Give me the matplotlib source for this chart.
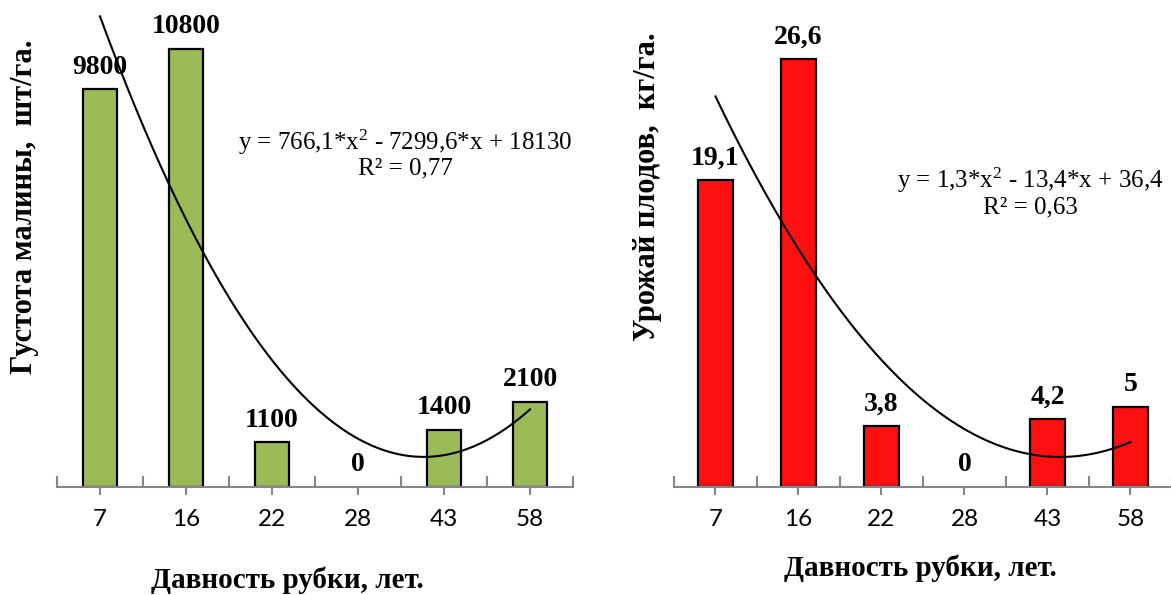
import numpy as np
import matplotlib
matplotlib.use("Agg")
import matplotlib.pyplot as plt
from matplotlib.ticker import FixedLocator

# data
years = ["7", "16", "22", "28", "43", "58"]
density = [9800, 10800, 1100, 0, 1400, 2100]
density_labels = ["9800", "10800", "1100", "0", "1400", "2100"]
harvest = [19.1, 26.6, 3.8, 0, 4.2, 5]
harvest_labels = ["19,1", "26,6", "3,8", "0", "4,2", "5"]
density_fit = [766.1, -7299.6, 18130]
harvest_fit = [1.3, -13.4, 36.4]

SERIF = "Liberation Serif"
SANS = "Lato"

plt.rcParams["mathtext.fontset"] = "custom"
plt.rcParams["mathtext.rm"] = SERIF
plt.rcParams["mathtext.it"] = SERIF + ":italic"


def draw_panel(ax, values, labels, fit, color, ymax, bar_w):
    x = np.arange(len(values))
    bars = ax.bar(x, values, width=bar_w, color=color, edgecolor="black",
                  linewidth=1.6, zorder=2)
    for b, v in zip(bars, values):
        if v == 0:
            b.set_linewidth(0)
    for xi, v, lab in zip(x, values, labels):
        ax.annotate(lab, (xi, v), xytext=(0, 7), textcoords="offset points",
                    ha="center", va="bottom", fontsize=20, fontweight="bold",
                    family=SERIF)
    # trend line, fitted on category index 1..6
    xs = np.linspace(1, len(values), 200)
    ax.plot(xs - 1, np.polyval(fit, xs), color="black", linewidth=1.5, zorder=3)

    ax.set_xlim(-0.5, len(values) - 0.5)
    ax.set_ylim(0, ymax)
    for s in ["top", "right", "left"]:
        ax.spines[s].set_visible(False)
    ax.spines["bottom"].set_color("#868686")
    ax.spines["bottom"].set_linewidth(1.5)
    ax.set_yticks([])
    ax.set_xticks(x)
    ax.set_xticklabels(years, fontsize=17.5, family=SANS)
    ax.xaxis.set_minor_locator(FixedLocator(np.arange(-0.5, len(values), 1.0)))
    ax.tick_params(axis="x", which="major", direction="out", length=6, width=1.5,
                   color="#868686", pad=10)
    ax.tick_params(axis="x", which="minor", direction="in", length=8, width=1.5,
                   color="#868686")


fig = plt.figure(figsize=(11.71, 5.95), dpi=100)

ax1 = fig.add_axes([57 / 1171, 108 / 595, 516 / 1171, 487 / 595])
draw_panel(ax1, density, density_labels, density_fit, "#9BBB59", 12000, 0.4)

ax2 = fig.add_axes([674 / 1171, 108 / 595, 498 / 1171, 487 / 595])
draw_panel(ax2, harvest, harvest_labels, harvest_fit, "#FF1010", 30.3, 0.41)

# equations
fig.text(405 / 1171, 1 - 142 / 595, "y = 766,1*x$^{2}$ - 7299,6*x + 18130",
         ha="center", va="center", fontsize=18, family=SERIF)
fig.text(405 / 1171, 1 - 168 / 595, "R² = 0,77",
         ha="center", va="center", fontsize=18, family=SERIF)
fig.text(1030 / 1171, 1 - 180 / 595, "y = 1,3*x$^{2}$ - 13,4*x + 36,4",
         ha="center", va="center", fontsize=18, family=SERIF)
fig.text(1030 / 1171, 1 - 207 / 595, "R² = 0,63",
         ha="center", va="center", fontsize=18, family=SERIF)

# axis titles
fig.text(25 / 1171, 1 - 207 / 595, "Густота малины,  шт/га.", rotation=90,
         ha="center", va="center", fontsize=22, fontweight="bold", family=SERIF)
fig.text(648 / 1171, 1 - 187 / 595, "Урожай плодов,  кг/га.", rotation=90,
         ha="center", va="center", fontsize=22, fontweight="bold", family=SERIF)
fig.text(287 / 1171, 1 - 580 / 595, "Давность рубки, лет.",
         ha="center", va="center", fontsize=21, fontweight="bold", family=SERIF)
fig.text(920 / 1171, 1 - 568 / 595, "Давность рубки, лет.",
         ha="center", va="center", fontsize=21, fontweight="bold", family=SERIF)

fig.savefig("out.png", dpi=100)
